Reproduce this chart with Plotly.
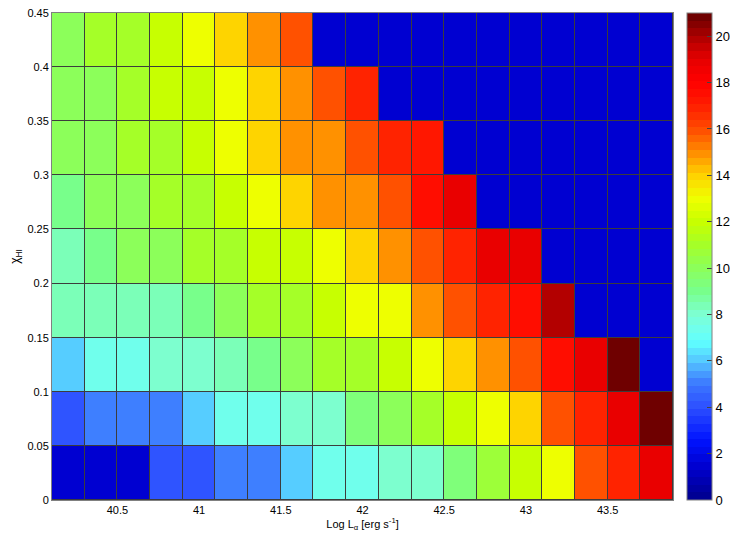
import plotly.graph_objects as go

# ---- data ----
log_l = [40.2, 40.4, 40.6, 40.8, 41.0, 41.2, 41.4, 41.6, 41.8, 42.0,
         42.2, 42.4, 42.6, 42.8, 43.0, 43.2, 43.4, 43.6, 43.8]
chi_hi = [0.025, 0.075, 0.125, 0.175, 0.225, 0.275, 0.325, 0.375, 0.425]

B = 1.5  # empty (blue) cells
row_000 = [B, B, B, 4, 4, 5, 5, 6, 7.3, 7.3, 8, 8, 9.5, 10.8, 12, 13, 16, 17, 19]
row_005 = [4, 5, 5, 5, 6, 7.3, 7.3, 8, 8.2, 9.2, 10, 11, 12, 13, 14, 16, 17, 19, 21]
row_010 = [6, 7.3, 7.3, 8, 8, 8.3, 9, 10, 11, 11, 12, 13, 14, 15, 16, 17.7, 19, 21, B]
row_015 = [8.3, 8.3, 8.3, 8.3, 9, 10, 11, 11, 12, 13, 13, 15, 16, 17, 17.7, 20, B, B, B]
row_020 = [8.3, 9, 10, 10, 11, 11, 12, 12, 13, 14, 15, 16, 17, 19, 19, B, B, B, B]
row_025 = [9, 10, 10, 11, 11, 12, 13, 14, 15, 15, 16, 17.7, 19, B, B, B, B, B, B]
row_030 = [10, 10, 11, 11, 12, 13, 14, 15, 15, 16, 17, 17.3, B, B, B, B, B, B, B]
row_035 = [10, 10, 11, 12, 12, 13, 14, 15, 16, 17, B, B, B, B, B, B, B, B, B]
row_040 = [10, 11, 11, 12, 13, 14, 15, 16, B, B, B, B, B, B, B, B, B, B, B]
z_rows = [row_000, row_005, row_010, row_015, row_020, row_025, row_030, row_035, row_040]

x_ticks = [40.5, 41, 41.5, 42, 42.5, 43, 43.5]
y_ticks = [0, 0.05, 0.1, 0.15, 0.2, 0.25, 0.3, 0.35, 0.4, 0.45]
y_tick_text = ["0", "0.05", "0.1", "0.15", "0.2", "0.25", "0.3", "0.35", "0.4", "0.45"]
cb_ticks = [0, 2, 4, 6, 8, 10, 12, 14, 16, 18, 20]
ZMIN, ZMAX = 0, 21

# ---- colormap (anchors) ----
anchors = [
    (0, (0, 0, 140)), (1.5, (0, 0, 210)), (2.6, (0, 20, 255)), (4, (45, 80, 255)),
    (5, (60, 120, 255)), (6, (85, 200, 255)), (6.8, (95, 255, 255)), (7.3, (110, 255, 240)),
    (8, (125, 255, 210)), (9, (120, 255, 140)), (10, (140, 255, 90)), (11, (165, 255, 40)),
    (12, (200, 255, 0)), (13, (240, 255, 0)), (14, (255, 210, 0)), (15, (255, 140, 0)),
    (16, (255, 75, 0)), (17, (255, 30, 0)), (18, (255, 0, 0)), (19, (230, 0, 0)),
    (20, (170, 0, 0)), (21, (100, 0, 0)),
]


def interp(v):
    for (v0, c0), (v1, c1) in zip(anchors[:-1], anchors[1:]):
        if v0 <= v <= v1:
            f = (v - v0) / (v1 - v0)
            return tuple(round(a + (b - a) * f) for a, b in zip(c0, c1))
    return anchors[-1][1]


N = 64
colorscale = []
for k in range(N):
    vc = (k + 0.5) * (ZMAX - ZMIN) / N
    r, g, b = interp(vc)
    col = f"rgb({r},{g},{b})"
    colorscale.append([k / N, col])
    colorscale.append([(k + 1) / N, col])

font = "Liberation Sans, Arial, Helvetica, sans-serif"

fig = go.Figure(go.Heatmap(
    x=log_l, y=chi_hi, z=z_rows,
    zmin=ZMIN, zmax=ZMAX, colorscale=colorscale,
    xgap=1, ygap=1, hoverongaps=False,
    colorbar=dict(
        x=1 + 14 / 621, xanchor="left", xpad=0, y=0.5, yanchor="middle",
        len=1.0, lenmode="fraction", ypad=0, thickness=25,
        outlinewidth=1, outlinecolor="#808080",
        tickvals=cb_ticks, ticks="inside", ticklen=5, tickcolor="#444",
        tickfont=dict(size=13, color="#000", family=font),
    ),
))

# page body adds an 8px offset, so the figure is 730x530
fig.update_layout(
    width=730, height=530,
    margin=dict(l=44, r=65, t=5, b=38, autoexpand=False),
    paper_bgcolor="white", plot_bgcolor="#3c3c3c",
    font=dict(family=font, size=11, color="#000"),
)
fig.update_xaxes(
    range=[40.1, 43.9], tickvals=x_ticks, ticks="", showgrid=False, zeroline=False,
    showline=True, linecolor="#808080", linewidth=1, mirror=True, automargin=False,
    ticklabeloverflow="allow",
    tickfont=dict(size=11), title=dict(text="Log L<sub>α</sub> [erg s<sup>-1</sup>]",
                                       font=dict(size=11), standoff=4),
)
fig.update_yaxes(
    range=[0, 0.45], tickvals=y_ticks, ticktext=y_tick_text, ticks="", showgrid=False,
    zeroline=False, showline=True, linecolor="#808080", linewidth=1, mirror=True,
    automargin=False, ticklabeloverflow="allow",
    tickfont=dict(size=11), title=dict(text="χ<sub>HI</sub>", font=dict(size=12), standoff=8),
)

fig.write_html("out.html")
